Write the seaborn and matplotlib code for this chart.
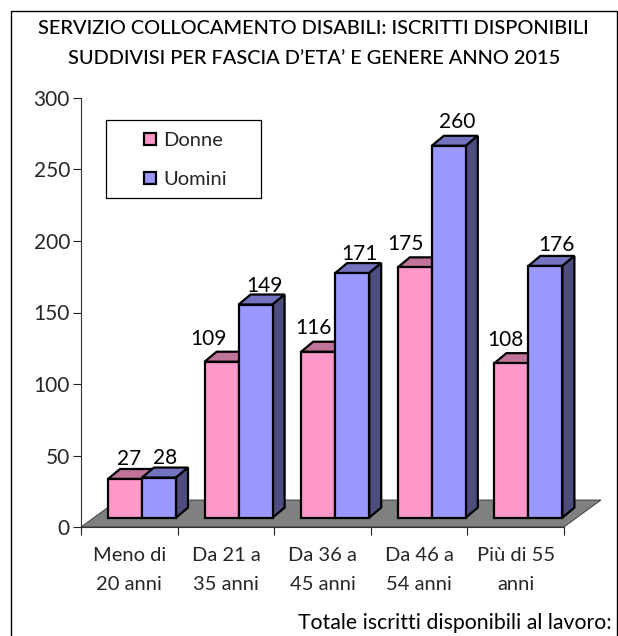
import pandas as pd
import matplotlib
matplotlib.use("Agg")
import matplotlib.pyplot as plt
from matplotlib.patches import Polygon, Rectangle
import seaborn as sns

categorie = ["Meno di\n20 anni", "Da 21 a\n35 anni", "Da 36 a\n45 anni", "Da 46 a\n54 anni", "Più di 55\nanni"]
donne = [27, 109, 116, 175, 108]
uomini = [28, 149, 171, 260, 176]
serie = ["Donne", "Uomini"]

W, H = 618, 636
PX_X = 96.6  # px per category
PX_Y = 429 / 300  # px per unit
DX = 12 / PX_X
DY = 10 / PX_Y
BASE = 9.4 / PX_Y

sns.set_style("white")
plt.rcParams["font.family"] = ["Lato", "DejaVu Sans"]

df = pd.DataFrame({
    "categoria": categorie * 2,
    "genere": [serie[0]] * 5 + [serie[1]] * 5,
    "valore": donne + uomini,
})

fig = plt.figure(figsize=(W / 100, H / 100), dpi=100)
ax = fig.add_axes([81 / W, 1 - 527 / H, 483 / W, 429 / H])

sns.barplot(data=df, x="categoria", y="valore", hue="genere", order=categorie,
            palette={"Donne": "#FF99CC", "Uomini": "#9999FF"}, saturation=1, width=0.704, dodge=True,
            edgecolor="black", linewidth=1.6, ax=ax)

x0 = -61 / PX_X
ax.set_xlim(x0, x0 + 5)
ax.set_ylim(0, 300)

# floor of the 3d box
floor_dx = 37 / PX_X
floor_dy = 27 / PX_Y
ax.add_patch(Polygon([(x0, 0), (x0 + 5, 0), (x0 + 5 + floor_dx, floor_dy), (x0 + floor_dx, floor_dy)],
                     closed=True, facecolor="#808080", edgecolor="#333333", linewidth=0.6,
                     clip_on=False, zorder=1))

# tops and sides of the bars
top_col = ["#BF7399", "#7373BF"]
side_col = "#4D4D80"
offsets = [[(4, 10), (-13, 13), (-5, 14), (-9, 13), (-6, 13)],
           [(6, 10), (9, 9), (7, 9), (8, 14), (11, 11)]]
for s, cont in enumerate(ax.containers):
    for bar, off in zip(cont, offsets[s]):
        bar.set_y(BASE)  # front face stands forward of the axis line
        x, w = bar.get_x(), bar.get_width()
        y = bar.get_y() + bar.get_height()
        base = bar.get_y()
        bar.set_zorder(3 + 2 * s)
        ax.add_patch(Polygon([(x, y), (x + DX, y + DY), (x + w + DX, y + DY), (x + w, y)],
                             closed=True, facecolor=top_col[s], edgecolor="black", linewidth=1.6,
                             clip_on=False, zorder=2 + 2 * s))
        ax.add_patch(Polygon([(x + w, base), (x + w + DX, base + DY), (x + w + DX, y + DY), (x + w, y)],
                             closed=True, facecolor=side_col, edgecolor="black", linewidth=1.6,
                             clip_on=False, zorder=2 + 2 * s))
        ax.annotate(f"{bar.get_height():.0f}", (x + w / 2, y + DY), xytext=(off[0] * 0.72, off[1] * 0.72),
                    textcoords="offset points", ha="center", va="center", fontsize=15, color="black", zorder=8)

# ticks on category edges, labels in between
ax.set_xticks([x0 + i for i in range(6)])
ax.set_xticklabels([])
ax.set_xticks([x0 + i + 0.5 for i in range(5)], minor=True)
ax.set_xticklabels(categorie, minor=True, fontsize=14.5, linespacing=1.85)
ax.tick_params(axis="x", which="major", length=6, width=0.8, color="#222222", bottom=True)
ax.tick_params(axis="x", which="minor", length=0, pad=14.5)
ax.set_yticks(range(0, 301, 50))
ax.tick_params(axis="y", length=6, width=0.8, color="#222222", left=True, labelsize=15, pad=2)
ax.set_xlabel("")
ax.set_ylabel("")
sns.despine(ax=ax)
for sp in ["left", "bottom"]:
    ax.spines[sp].set_color("#333333")
    ax.spines[sp].set_linewidth(0.8)

# legend box is wider than its entries, so the frame is drawn apart
fig.add_artist(Rectangle((106 / W, 1 - 198 / H), 155 / W, 78 / H, transform=fig.transFigure,
                         facecolor="white", edgecolor="black", linewidth=0.9, zorder=5))
leg = ax.legend(loc="upper left", bbox_to_anchor=(144 / W, 1 - 132 / H), bbox_transform=fig.transFigure,
                borderaxespad=0, borderpad=0, fontsize=14.5, frameon=False,
                handlelength=0.6, handleheight=0.6, handletextpad=0.35, labelspacing=1.1, title=None)
leg.set_zorder(9)
ax.set_zorder(6)
ax.patch.set_alpha(0)

fig.text(313.5 / W, 1 - 29 / H, "SERVIZIO COLLOCAMENTO DISABILI: ISCRITTI DISPONIBILI",
         ha="center", va="center", fontsize=14.45, fontweight="medium", color="black")
fig.text(314 / W, 1 - 58 / H, "SUDDIVISI PER FASCIA D’ETA’ E GENERE ANNO 2015",
         ha="center", va="center", fontsize=14.45, fontweight="medium", color="black")
fig.text(612 / W, 1 - 623 / H, "Totale iscritti disponibili al lavoro:",
         ha="right", va="center", fontsize=15.3, color="black")

# frame runs off the bottom of the image
fig.add_artist(Rectangle((11 / W, -0.05), (616.5 - 11) / W, 1.05 - 11 / H, transform=fig.transFigure,
                         facecolor="none", edgecolor="black", linewidth=1.0))

fig.savefig("out.png", dpi=100)
